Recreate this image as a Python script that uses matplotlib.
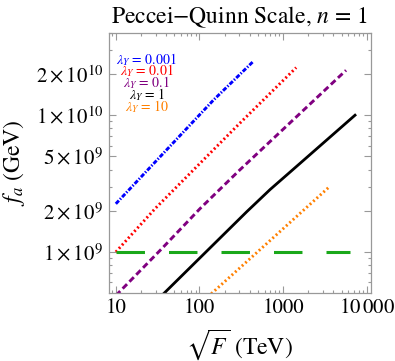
import numpy as np
import matplotlib
matplotlib.use("Agg")
import matplotlib.pyplot as plt
from matplotlib.ticker import FixedLocator, FixedFormatter, NullFormatter, LogLocator

# ---------------------------------------------------------------------------
# data (sqrt(F) in TeV, f_a in GeV)
# ---------------------------------------------------------------------------
blue_x   = [10, 147, 442]
blue_y   = [2.25e9, 1.29e10, 2.48e10]
red_x    = [10, 29.6, 301, 1435]
red_y    = [1.0e9, 2.08e9, 8.69e9, 2.23e10]
purple_x = [10, 35.6, 102, 301, 5660]
purple_y = [4.8e8, 1.06e9, 2.08e9, 3.96e9, 2.13e10]
black_x  = [31.6, 39.0, 368, 699, 1328, 7247]
black_y  = [4.49e8, 5.09e8, 1.97e9, 2.86e9, 4.03e9, 1.0e10]
orange_x = [126, 141, 485, 3648]
orange_y = [4.7e8, 5.0e8, 9.9e8, 3.03e9]
green_x  = [10, 6300]
green_y  = [1e9, 1e9]

legend_labels = [r"$\lambda_Y$ = 0.001", r"$\lambda_Y$ = 0.01", r"$\lambda_Y$ = 0.1",
                 r"$\lambda_Y$ = 1", r"$\lambda_Y$ = 10"]

xticks      = [10, 100, 1000, 10000]
xticklabels = ["10", "100", "1000", r"$10\,000$"]
yticks      = [1e9, 2e9, 5e9, 1e10, 2e10]
yticklabels = [r"$1\times10^{9}$", r"$2\times10^{9}$", r"$5\times10^{9}$",
               r"$1\times10^{10}$", r"$2\times10^{10}$"]
yminor      = [6e8, 7e8, 8e8, 9e8, 3e9, 4e9, 6e9, 7e9, 8e9, 9e9, 3e10, 4e10]

BLUE   = (0, 0, 1)
RED    = (1, 0, 0)
PURPLE = (0.5, 0, 0.5)
ORANGE = (1, 0.5, 0)
GREEN  = (0.1, 0.66, 0.1)
FRAME  = (0.6, 0.6, 0.6)

plt.rcParams['font.family'] = ['STIXGeneral', 'DejaVu Serif']
plt.rcParams['mathtext.fontset'] = 'stix'
plt.rcParams['lines.scale_dashes'] = False

fig = plt.figure(figsize=(3.95, 3.61), dpi=100)
ax = fig.add_axes([0.275, 0.188, 0.663, 0.721])

lw = 2.1
ax.plot(blue_x, blue_y, color=BLUE, lw=lw, dashes=(3.2, 1.2, 1.0, 1.2))
ax.plot(red_x, red_y, color=RED, lw=lw, dashes=(1.4, 1.9))
ax.plot(purple_x, purple_y, color=PURPLE, lw=lw, dashes=(4.5, 2.5))
ax.plot(black_x, black_y, color='black', lw=2.0)
ax.plot(orange_x, orange_y, color=ORANGE, lw=lw, dashes=(1.4, 1.9))
ax.plot(green_x, green_y, color=GREEN, lw=2.2, dashes=(20.5, 17.3))

ax.set_xscale('log')
ax.set_yscale('log')
ax.set_xlim(8.2, 11100)
ax.set_ylim(5e8, 4e10)

ax.xaxis.set_major_locator(FixedLocator(xticks))
ax.xaxis.set_major_formatter(FixedFormatter(xticklabels))
ax.xaxis.set_minor_locator(LogLocator(base=10, subs=np.arange(2, 10)))
ax.xaxis.set_minor_formatter(NullFormatter())
ax.yaxis.set_major_locator(FixedLocator(yticks))
ax.yaxis.set_major_formatter(FixedFormatter(yticklabels))
ax.yaxis.set_minor_locator(FixedLocator(yminor))
ax.yaxis.set_minor_formatter(NullFormatter())

ax.tick_params(which='both', direction='in', top=True, right=True,
               color=FRAME, labelsize=15, width=0.8)
ax.tick_params(which='major', length=5, pad=4)
ax.tick_params(which='minor', length=2.5)
for s in ax.spines.values():
    s.set_color(FRAME)
    s.set_linewidth(0.9)

ax.set_xlabel(r"$\sqrt{F}$ (TeV)", fontsize=17, labelpad=6)
ax.set_ylabel(r"$f_a$ (GeV)", fontsize=17, labelpad=6)
ax.set_title(r"Peccei$-$Quinn Scale, $n$ = 1", fontsize=17, pad=7)

# colour-coded labels in the upper left corner
colors = [BLUE, RED, PURPLE, 'black', ORANGE]
ys = [0.899, 0.854, 0.808, 0.761, 0.716]
for lab, c, yy in zip(legend_labels, colors, ys):
    ax.text(0.146, yy, lab, color=c, fontsize=10, ha='center', va='center',
            transform=ax.transAxes)

fig.savefig("out.png", dpi=100)
